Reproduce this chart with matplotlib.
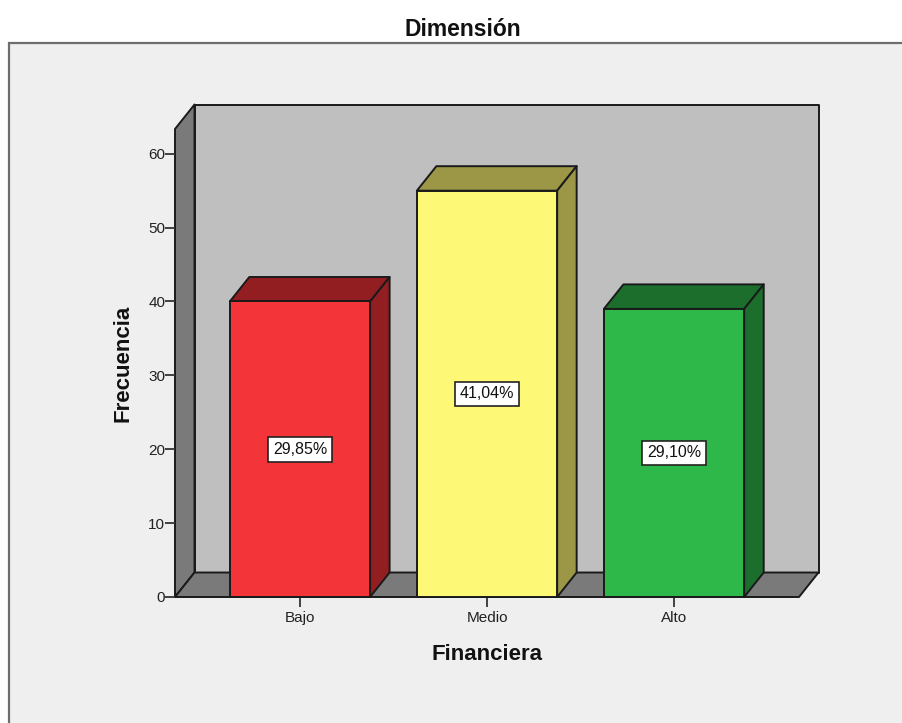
import matplotlib
matplotlib.use("Agg")
import matplotlib.pyplot as plt
from matplotlib.patches import Rectangle

plt.rcParams['font.family'] = ['Liberation Sans', 'DejaVu Sans']

categories = ["Bajo", "Medio", "Alto"]
counts = [40, 55, 39]
y_ticks = [0, 10, 20, 30, 40, 50, 60]
front_colors = ["#F33539", "#FDF875", "#2FB84A"]
side_colors = ["#931E21", "#9B9746", "#1C6E2D"]

EDGE = "#1a1a1a"
W, H = 902, 723
bar_width = 0.75
ymax = 63.35
x0, x1 = -0.668, 2.668
# depth of the fake 3D box, in data units
depth_x = 19.5 / 187
depth_y = 24.5 / 7.39

fig = plt.figure(figsize=(W / 100, H / 100), dpi=100, facecolor="white")

# chart area background, runs off the right and bottom edges
fig.add_artist(Rectangle((8.5 / W, -0.01), 1.0, 1 - 42.5 / H + 0.01,
                         transform=fig.transFigure, facecolor="#EFEFEF",
                         edgecolor="#6E6E6E", linewidth=1.6, zorder=-1))

ax = fig.add_axes([175 / W, (H - 597) / H, 624 / W, 468 / H])
ax.set_xlim(x0, x1)
ax.set_ylim(0, ymax)
ax.patch.set_visible(False)
for s in ax.spines.values():
    s.set_visible(False)


def poly(xs, ys, color, z):
    ax.fill(xs, ys, facecolor=color, edgecolor=EDGE, linewidth=1.4,
            joinstyle="round", clip_on=False, zorder=z)


# back wall, side wall and floor
bx0, bx1 = x0 + depth_x, x1 + depth_x
poly([bx0, bx1, bx1, bx0], [depth_y, depth_y, ymax + depth_y, ymax + depth_y], "#BFBFBF", 1)
poly([x0, bx0, bx0, x0], [0, depth_y, ymax + depth_y, ymax], "#7A7A7A", 1)
poly([x0, x1, bx1, bx0], [0, 0, depth_y, depth_y], "#7A7A7A", 1)

total = sum(counts)
for i, (v, fc, sc) in enumerate(zip(counts, front_colors, side_colors)):
    l = i - bar_width / 2
    r = i + bar_width / 2
    poly([l, l + depth_x, r + depth_x, r], [v, v + depth_y, v + depth_y, v], sc, 2)
    poly([r, r + depth_x, r + depth_x, r], [0, depth_y, v + depth_y, v], sc, 2)
    poly([l, r, r, l], [0, 0, v, v], fc, 3)
    label = f"{v / total * 100:.2f}%".replace(".", ",")
    ax.text(i, v / 2, label, ha="center", va="center", fontsize=11.5, color="#111111", zorder=4,
            bbox=dict(boxstyle="square,pad=0.3", facecolor="white", edgecolor="#222222", linewidth=1.2))

ax.set_xticks(range(len(categories)), categories)
ax.set_yticks(y_ticks)
ax.tick_params(axis="x", length=7, width=1.3, color="#333333", labelsize=11, labelcolor="#222222", pad=3)
ax.tick_params(axis="y", length=7, width=1.3, color="#333333", labelsize=11, labelcolor="#222222", pad=0)

fig.text(463 / W, 1 - 29 / H, "Dimensión", ha="center", va="center", fontsize=16.5, fontweight="bold", color="#111111")
fig.text(487 / W, 1 - 655 / H, "Financiera", ha="center", va="center", fontsize=16, fontweight="bold", color="#111111")
fig.text(123 / W, 1 - 363 / H, "Frecuencia", ha="center", va="center", rotation=90, fontsize=16, fontweight="bold", color="#111111")

fig.savefig("out.png", dpi=100, facecolor=fig.get_facecolor())
